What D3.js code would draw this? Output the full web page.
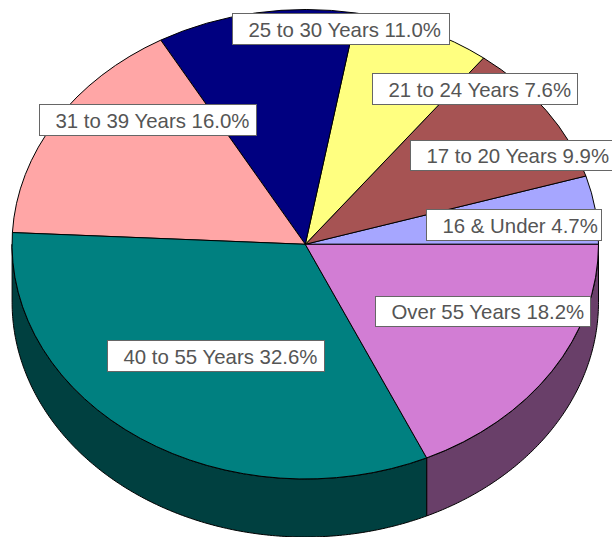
<!DOCTYPE html>
<html><head><meta charset="utf-8">
<script src="https://cdn.jsdelivr.net/npm/d3@7"></script>
<style>html,body{margin:0;padding:0;background:#fff}svg{display:block}</style>
</head><body><svg id="c" width="612" height="537"></svg>
<script>
const categories = ["16 & Under","17 to 20 Years","21 to 24 Years","25 to 30 Years","31 to 39 Years","40 to 55 Years","Over 55 Years"];
const shares = [4.7,9.9,7.6,11.0,16.0,32.6,18.2];
const topColors = ["#A6A6FF","#A65353","#FFFF80","#000080","#FFA6A6","#008080","#D27DD4"];
const sideColors = ["#535380","#532929","#808040","#000040","#805353","#004040","#693F69"];

// layout of the label boxes (left, top, right, bottom), in the order of categories
const labelBoxes = [[426,209,601,240],[410,140,612,170],[372,73,577,104],[232,13,449,44],[39,104,256,135],[107,340,324,371],[375,296,590,326]];
const cx=305.3, cy=244.3, rx=293.2, ry=234.7, depth=58;

const svg=d3.select("#c");
const x=d3.scaleLinear().domain([-1,1]).range([cx-rx,cx+rx]);
const y=d3.scaleLinear().domain([-1,1]).range([cy-ry,cy+ry]);
const pie=d3.pie().sort(null).startAngle(Math.PI/2).endAngle(Math.PI/2-2*Math.PI);
const arcs=pie(shares);

// d3 angle: clockwise from 12 o'clock; front half of the disc is PI/2 .. 3PI/2 (mod 2PI)
const px=a=>x(Math.sin(a)), py=a=>y(-Math.cos(a));
function norm(a){a%=2*Math.PI; return a<0?a+2*Math.PI:a;}

const wall=d3.area().x(a=>px(a)).y0(a=>py(a)).y1(a=>py(a)+depth);
arcs.forEach((d,i)=>{
  let a0=norm(Math.min(d.startAngle,d.endAngle)), a1=a0+Math.abs(d.endAngle-d.startAngle);
  const lo=Math.max(a0,Math.PI/2), hi=Math.min(a1,3*Math.PI/2);
  if(hi<=lo) return;
  const n=Math.max(2,Math.ceil((hi-lo)/0.01));
  const pts=d3.range(n+1).map(k=>lo+(hi-lo)*k/n);
  svg.append("path").attr("d",wall(pts)).attr("fill",sideColors[i]).attr("stroke","#000").attr("stroke-width",1);
});

const arc=d3.arc().innerRadius(0).outerRadius(1);
const g=svg.append("g").attr("transform",`translate(${cx},${cy}) scale(${rx},${ry})`);
g.selectAll("path").data(arcs).join("path")
 .attr("d",arc).attr("fill",(d,i)=>topColors[i]).attr("stroke","#000")
 .attr("stroke-width",1).attr("vector-effect","non-scaling-stroke");

const fmt=d3.format(".1f");
const lab=svg.append("g").selectAll("g").data(categories).join("g");
lab.append("rect")
 .attr("x",(d,i)=>labelBoxes[i][0]+.5).attr("y",(d,i)=>labelBoxes[i][1]+.5)
 .attr("width",(d,i)=>labelBoxes[i][2]-labelBoxes[i][0]).attr("height",(d,i)=>labelBoxes[i][3]-labelBoxes[i][1])
 .attr("fill","#fff").attr("stroke","#666").attr("stroke-width",1);
lab.append("text")
 .attr("x",(d,i)=>labelBoxes[i][0]+16.5).attr("y",(d,i)=>labelBoxes[i][3]-7)
 .attr("font-family","'Liberation Sans',Arial,sans-serif").attr("font-size",20.4)
 .attr("fill","#555")
 .text((d,i)=>`${d} ${fmt(shares[i])}%`);
</script></body></html>
